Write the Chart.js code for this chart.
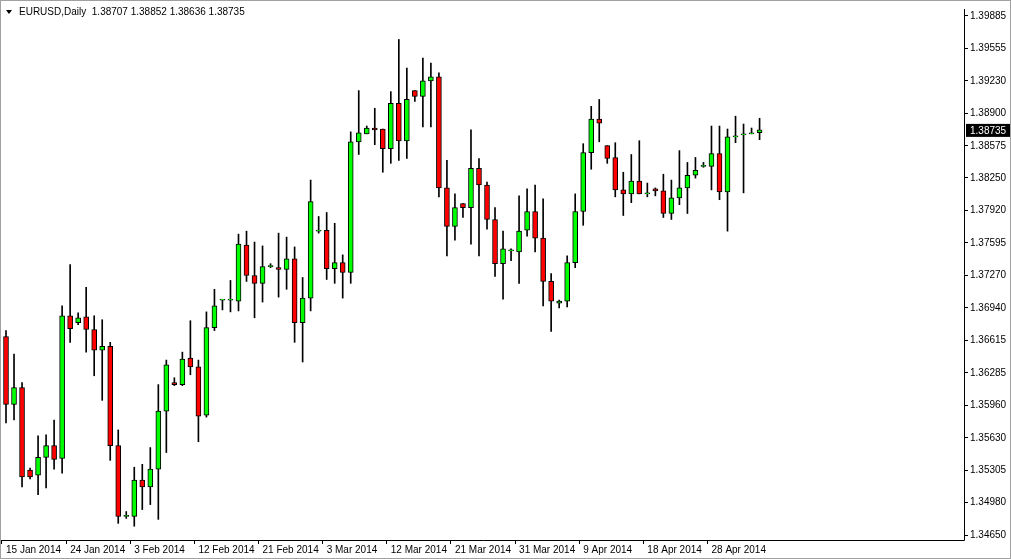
<!DOCTYPE html>
<html><head><meta charset="utf-8">
<script src="https://cdn.jsdelivr.net/npm/chart.js@4/dist/chart.umd.min.js"></script>
<style>html,body{margin:0;padding:0;background:#fff}#w{position:relative;width:1011px;height:559px;box-sizing:border-box;border:1px solid #a0a0a0}canvas{display:block}</style>
</head><body><div id="w"><canvas id="c" width="1009" height="557"></canvas></div>
<script>
const symbolTitle = "EURUSD,Daily";
const opens = [1.36652,1.35968,1.36137,1.35304,1.35254,1.35433,1.35552,1.35423,1.36861,1.36791,1.36851,1.36722,1.36513,1.36553,1.35552,1.34838,1.34838,1.35205,1.35135,1.35314,1.35899,1.36186,1.36167,1.36434,1.36345,1.35859,1.36742,1.37019,1.37019,1.37009,1.37574,1.37267,1.37188,1.37356,1.37346,1.37327,1.37436,1.36791,1.37039,1.37714,1.37723,1.37336,1.37396,1.37297,1.38615,1.38695,1.38754,1.38744,1.38546,1.39002,1.38625,1.39131,1.39072,1.39230,1.39270,1.38150,1.37763,1.37991,1.37951,1.38348,1.38179,1.37832,1.37386,1.37515,1.37505,1.37723,1.37912,1.37644,1.37207,1.36989,1.37009,1.37396,1.37912,1.38506,1.38844,1.38576,1.38457,1.38130,1.38090,1.38219,1.38090,1.38140,1.38120,1.37892,1.38050,1.38150,1.38278,1.38368,1.38368,1.38496,1.38110,1.38665,1.38685,1.38695,1.38707];
const highs = [1.36712,1.36474,1.36186,1.35324,1.35651,1.35661,1.35810,1.36960,1.37376,1.36890,1.37148,1.36861,1.36821,1.36593,1.35710,1.34887,1.35334,1.35363,1.35532,1.36167,1.36414,1.36236,1.36494,1.36811,1.36414,1.36900,1.37128,1.37019,1.37217,1.37684,1.37714,1.37604,1.37565,1.37386,1.37694,1.37654,1.37555,1.37247,1.38229,1.37862,1.37902,1.37793,1.37475,1.38715,1.39131,1.38774,1.38953,1.38744,1.39121,1.39647,1.39359,1.39131,1.39458,1.39409,1.39310,1.38427,1.38090,1.37991,1.38735,1.38447,1.38209,1.37951,1.37714,1.37535,1.38070,1.38140,1.38179,1.38040,1.37287,1.37019,1.37465,1.38090,1.38596,1.38972,1.39042,1.38576,1.38606,1.38308,1.38487,1.38626,1.38199,1.38150,1.38288,1.38229,1.38526,1.38407,1.38457,1.38407,1.38774,1.38774,1.38744,1.38873,1.38794,1.38754,1.38852];
const lows = [1.35780,1.35810,1.35135,1.35215,1.35056,1.35125,1.35314,1.35274,1.36593,1.36771,1.36494,1.36256,1.36008,1.35403,1.34768,1.34818,1.34739,1.34907,1.34957,1.34808,1.35482,1.36157,1.36157,1.36266,1.35591,1.35839,1.36712,1.36920,1.36900,1.36910,1.37207,1.36841,1.36999,1.37346,1.37049,1.37128,1.36593,1.36395,1.36910,1.37694,1.37227,1.37188,1.37039,1.37188,1.38487,1.38695,1.38586,1.38308,1.38398,1.38427,1.38447,1.39022,1.38764,1.38764,1.38060,1.37465,1.37624,1.37852,1.37584,1.37465,1.37733,1.37257,1.37029,1.37416,1.37188,1.37664,1.37505,1.36960,1.36702,1.36940,1.36950,1.37346,1.37773,1.38338,1.38615,1.38398,1.38060,1.37872,1.38001,1.38090,1.38060,1.38070,1.37852,1.37832,1.37981,1.37892,1.38249,1.38358,1.38130,1.38031,1.37714,1.38606,1.38100,1.38695,1.38636];
const closes = [1.35968,1.36137,1.35235,1.35235,1.35433,1.35552,1.35413,1.36861,1.36732,1.36841,1.36722,1.36513,1.36553,1.35552,1.34838,1.34838,1.35205,1.35135,1.35314,1.35899,1.36365,1.36167,1.36424,1.36345,1.35849,1.36742,1.36960,1.37019,1.37019,1.37584,1.37267,1.37188,1.37356,1.37356,1.37327,1.37436,1.36791,1.37039,1.38011,1.37714,1.37336,1.37396,1.37297,1.38615,1.38705,1.38754,1.38735,1.38546,1.39002,1.38625,1.39042,1.39072,1.39230,1.39270,1.38150,1.37763,1.37951,1.37951,1.38348,1.38179,1.37832,1.37386,1.37535,1.37515,1.37714,1.37912,1.37644,1.37207,1.37009,1.37009,1.37396,1.37912,1.38506,1.38844,1.38804,1.38447,1.38130,1.38090,1.38219,1.38090,1.38090,1.38120,1.37892,1.38050,1.38150,1.38278,1.38328,1.38368,1.38496,1.38110,1.38665,1.38675,1.38695,1.38695,1.38735];
const dateTicks = ["15 Jan 2014","24 Jan 2014","3 Feb 2014","12 Feb 2014","21 Feb 2014","3 Mar 2014","12 Mar 2014","21 Mar 2014","31 Mar 2014","9 Apr 2014","18 Apr 2014","28 Apr 2014"];
const priceTicks = [1.34650,1.34980,1.35305,1.35630,1.35960,1.36285,1.36615,1.36940,1.37270,1.37595,1.37920,1.38250,1.38575,1.38900,1.39230,1.39555,1.39885];
const ticksEvery = 8, totalSlots = 120;

const labels = Array.from({length: totalSlots}, (_, i) => i);
const n = opens.length;
const wickData = labels.map(i => i < n ? [lows[i], highs[i]] : null);
const bodyData = labels.map(i => i < n ? [opens[i], closes[i]] : null);
const bodyColor = ctx => { const i = ctx.dataIndex; return closes[i] >= opens[i] ? '#00ff00' : '#ff0000'; };
const FONT = "'Liberation Sans', Arial, sans-serif";

const overlay = {
  id: 'overlay',
  afterDraw(chart) {
    const {ctx, chartArea: a, scales} = chart;
    ctx.save();
    ctx.strokeStyle = '#000'; ctx.lineWidth = 1;
    ctx.beginPath();
    ctx.moveTo(a.right + 0.5, a.top); ctx.lineTo(a.right + 0.5, a.bottom + 0.5); ctx.lineTo(a.left, a.bottom + 0.5);
    ctx.stroke();
    ctx.fillStyle = '#000';
    ctx.beginPath(); ctx.moveTo(5, 9); ctx.lineTo(11, 9); ctx.lineTo(8, 13); ctx.closePath(); ctx.fill();
    ctx.font = '10px ' + FONT; ctx.textBaseline = 'middle'; ctx.textAlign = 'left';
    const i = n - 1;
    ctx.fillText(symbolTitle + '  ' + [opens[i], highs[i], lows[i], closes[i]].map(v => v.toFixed(5)).join(' '), 18, 11);
    const y = scales.y.getPixelForValue(closes[i]);
    ctx.fillStyle = '#000'; ctx.fillRect(a.right + 2, y - 6, 44, 13);
    ctx.fillStyle = '#fff'; ctx.fillText(closes[i].toFixed(5), a.right + 6, y + 1);
    ctx.restore();
  }
};

new Chart(document.getElementById('c'), {
  type: 'bar',
  data: { labels, datasets: [
    { data: wickData, backgroundColor: '#000', barThickness: 1, grouped: false, order: 2 },
    { data: bodyData, backgroundColor: bodyColor, borderColor: '#000', borderWidth: 1, borderSkipped: false, barThickness: 5, minBarLength: 1, grouped: false, order: 1 }
  ]},
  plugins: [overlay],
  options: {
    responsive: false, animation: false, devicePixelRatio: 1,
    layout: { padding: { left: 1 } },
    plugins: { legend: { display: false }, tooltip: { enabled: false } },
    scales: {
      x: {
        offset: true,
        grid: { drawOnChartArea: false, tickLength: 4, color: c => (c.index % ticksEvery === 0 && c.index / ticksEvery < dateTicks.length) ? '#000' : 'transparent' },
        border: { display: false },
        afterFit: s => { s.height = 18; },
        ticks: { autoSkip: false, maxRotation: 0, align: 'start', padding: 0, color: '#000', font: { family: FONT, size: 10 },
          callback: (v, i) => (i % ticksEvery === 0 && i / ticksEvery < dateTicks.length) ? dateTicks[i / ticksEvery] : '' }
      },
      y: {
        position: 'right', min: 1.34600, max: 1.39954,
        afterBuildTicks: s => { s.ticks = priceTicks.map(v => ({ value: v })); },
        afterFit: s => { s.width = 46; },
        grid: { drawOnChartArea: false, tickLength: 4, color: '#000' },
        border: { display: false },
        ticks: { autoSkip: false, padding: 2, color: '#000', font: { family: FONT, size: 10 }, callback: v => v.toFixed(5) }
      }
    }
  }
});
</script>
</body></html>
